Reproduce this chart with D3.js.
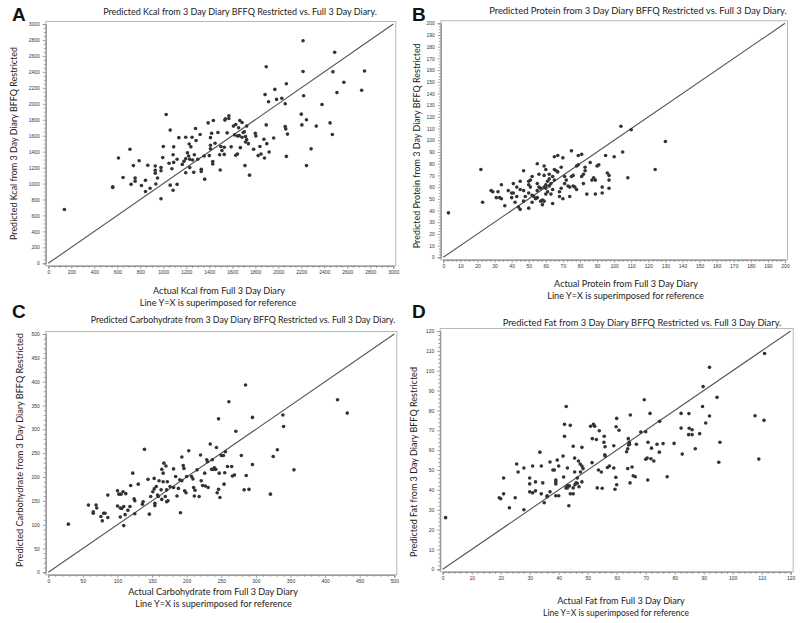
<!DOCTYPE html>
<html><head><meta charset="utf-8">
<script src="https://cdn.jsdelivr.net/npm/d3@7"></script>
<style>body{margin:0;background:#fff}svg{display:block}</style>
</head><body>
<script>
// ---------- DATA ----------
const kcalActual=[140,560,560,610,650,710,720,740,755,755,790,810,845,845,865,885,930,930,930,935,950,980,980,980,995,1000,1025,1060,1050,1060,1075,1085,1085,1090,1090,1120,1120,1135,1165,1180,1195,1195,1195,1210,1220,1225,1230,1230,1240,1250,1255,1265,1270,1280,1285,1300,1320,1330,1330,1355,1360,1390,1400,1410,1410,1410,1420,1430,1430,1435,1450,1475,1490,1495,1500,1510,1530,1530,1535,1540,1555,1570,1570,1590,1610,1620,1630,1630,1645,1645,1655,1660,1665,1670,1685,1685,1695,1705,1710,1715,1715,1725,1725,1740,1750,1785,1800,1805,1825,1840,1850,1875,1880,1885,1895,1895,1900,1920,1915,1960,1970,1985,2030,2060,2060,2065,2070,2070,2080,2200,2205,2215,2215,2220,2245,2245,2285,2330,2380,2450,2470,2475,2490,2510,2570,2725,2750];
const kcalPred=[675,960,950,1320,1075,1430,990,1225,1030,1070,1285,975,1040,900,1230,940,1220,1165,1130,995,1070,1200,1160,810,1325,1465,1865,980,1255,1670,1185,915,1360,1460,1265,990,1305,1575,1240,1280,1310,1580,1135,1385,1345,1495,1305,1200,1460,1580,1295,1140,1360,1690,1540,1305,1615,1180,1150,1345,1055,1760,1350,1575,1480,1435,1630,1275,1245,1790,1505,1640,1360,1170,1465,1415,1365,1455,1795,1810,1635,1815,1850,1460,1720,1610,1355,1740,1595,1370,1700,1600,1790,1450,1580,1765,1640,1650,1225,1520,1590,1720,1550,1500,1105,1430,1630,1595,1350,1465,1370,1555,1320,2115,2465,1735,1500,1395,2025,1570,2180,2055,2070,2000,1715,1685,2250,1340,1620,1870,1735,2790,2405,2100,1800,1225,1435,1720,1990,1760,1615,2400,2645,2140,2270,2170,2410];

const proteinActual=[3,22,23,28,29,31,32,33,34,34,36,38,40,41,40,41,42,43,43,44,45,45,45,47,47,47,48,50,50,50,50,51,51,52,52,52,53,54,55,55,55,55,56,56,57,57,58,58,59,59,59,59,60,60,60,60,61,61,62,62,62,63,63,64,64,64,65,65,65,66,67,67,68,68,69,69,70,70,71,71,72,73,74,74,75,75,76,76,77,78,78,79,79,81,81,82,82,83,83,84,86,87,88,89,89,90,91,93,93,95,96,97,97,97,100,104,105,108,110,124,130];
const proteinPred=[38,75,47,57,56,51,56,51,62,50,44,57,55,63,51,55,47,52,60,43,41,65,58,74,57,48,52,55,62,42,65,60,66,47,53,69,52,50,57,80,63,51,71,60,48,59,49,45,48,78,70,60,62,54,75,59,56,65,67,61,71,54,63,46,58,69,75,66,86,74,87,73,52,56,59,77,85,50,63,69,66,61,52,60,69,91,61,70,60,58,78,87,79,88,69,71,63,74,77,54,81,66,68,54,66,78,79,55,60,87,72,70,66,59,86,112,90,68,109,75,99];

const carbActual=[29,58,65,65,69,70,76,78,80,82,86,86,100,100,102,104,104,105,106,108,109,109,111,112,115,118,119,122,124,125,125,130,136,137,139,144,146,148,151,153,153,154,154,156,158,159,160,163,164,164,166,166,167,169,170,171,171,172,173,176,181,181,184,186,188,190,191,193,193,195,196,197,199,200,203,207,209,210,211,212,215,218,220,221,223,226,227,229,230,231,234,236,237,239,240,242,243,244,246,246,247,248,250,253,254,255,256,261,259,265,266,269,271,279,283,285,286,290,295,295,321,325,331,339,340,355,418,432];
const carbPred=[101,141,124,127,141,135,117,108,124,124,115,162,171,139,164,135,116,164,134,169,98,138,121,165,130,138,182,208,154,150,123,185,143,148,258,195,122,159,169,197,175,145,140,180,162,159,192,173,153,216,208,190,229,159,223,173,148,190,150,180,178,217,201,160,176,194,125,192,242,224,218,171,167,201,255,201,196,178,160,172,215,159,246,192,182,208,181,236,232,178,269,216,236,216,219,216,262,167,322,174,208,157,245,245,185,209,253,358,222,222,202,204,296,245,173,393,203,174,226,325,164,243,257,330,306,215,362,334];

const fatActual=[1,19.5,20,21,21,23,25,25.5,26,28,28,30,30,30,31,31,32,32,33.5,34,34,34.5,35,36,36,37,37,38,38.5,39,39,39,39,39.5,40,40,41.5,41.7,42,42,42.5,42.6,43,43,43,43.5,43.7,44,44,45,45,45,45.5,45.5,45.6,46,46.4,46.4,46.8,47,47.4,47.5,48,48,48,48.4,51,51.5,51.6,52,52.4,53,53.3,53.7,54,54.7,55,55.6,55.7,55.9,56,56,56.8,57.5,59,59,59.4,59.7,59.8,60,60,60.8,63.4,63.8,63.8,64,64.1,64.3,64.4,64.6,64.7,65.3,65.7,66.4,66.8,68.3,69.5,70,70,70.5,70.7,70.8,71.5,71.8,72,72.8,73.9,74.7,74.8,76,77.4,79.8,82.2,82.2,82.6,84.8,84.9,85,86,86,87.1,88.6,89.6,89.8,90.7,92,92,94.6,95.2,95.6,107.7,109,110.8,111];
const fatPred=[26,36,35.5,46,38,31,36,53,49,30,51,39,46,43,52,38.5,44,39.5,59,38,52,43.5,33.5,37,36.5,39,54,50,50,37,45,44,43,55,52,37,57,46.5,73,67,41,82,42,51,41,32,42,38,72.5,41,38,62,56,49,42.6,43.6,43.3,46,54.5,41.6,53,49,61.4,44,52,50.7,72,53.7,65.8,73,72,65.4,41,50,69.8,49,40.8,64,67,57.7,61.7,57,51.3,52,62.2,51,40.3,46.3,71.8,76,42.6,70,59.2,50.7,60.7,65.8,62.6,64,63,43.5,77.7,51.5,47.1,46.6,63,69.1,85.4,55.4,69.3,56,45,64,78.5,55.7,61,54.5,63,59,74.5,63.3,46.6,63.4,71.1,78.5,58,67.8,78.4,71,67.8,70.3,60.7,68.3,82,92,73.7,101.7,77.2,86.6,53.9,64,77.3,55.5,75,108.7];

const kcalTicks=d3.range(0,3001,200);
const proteinTicks=d3.range(0,201,10);
const carbTicks=d3.range(0,501,50);
const fatTicks=d3.range(0,121,10);

// ---------- LAYOUT ----------
const W=800,H=623;
const svg=d3.select("body").append("svg").attr("width",W).attr("height",H);
svg.append("rect").attr("width",W).attr("height",H).attr("fill","#fff");
const FONT="Lato, 'Open Sans', sans-serif";

const panels=[
 {letter:"A",lx:12,ly:21,xs:[48.3,393.3],ys:[263.3,24],max:3000,ticks:kcalTicks,minor:50,xd:kcalActual,yd:kcalPred,
  title:"Predicted Kcal from 3 Day Diary BFFQ Restricted vs. Full 3 Day Diary.",tx:240,ty:14.5,tw:274,
  xl:"Actual Kcal from Full 3 Day Diary",xlx:219,xly:293.5,xlw:132,x2x:218,x2y:305.5,x2w:157,
  yl:"Predicted Kcal from 3 Day Diary BFFQ Restricted",ylx:17,yly:143.5,ylw:193},
 {letter:"B",lx:412,ly:21,xs:[443.3,785],ys:[257.3,23.3],max:200,ticks:proteinTicks,minor:2.5,xd:proteinActual,yd:proteinPred,
  title:"Predicted Protein from 3 Day Diary BFFQ Restricted vs. Full 3 Day Diary.",tx:638,ty:14,tw:298,
  xl:"Actual Protein from Full 3 Day Diary",xlx:626,xly:286.5,xlw:144,x2x:625.5,x2y:298.5,x2w:157,
  yl:"Predicted Protein from 3 Day Diary BFFQ Restricted",ylx:420.5,yly:145.7,ylw:205},
 {letter:"C",lx:12,ly:318,xs:[48.3,394.3],ys:[572.3,334],max:500,ticks:carbTicks,minor:10,xd:carbActual,yd:carbPred,
  title:"Predicted Carbohydrate from 3 Day Diary BFFQ Restricted vs. Full 3 Day Diary.",tx:243,ty:323,tw:305,
  xl:"Actual Carbohydrate from Full 3 Day Diary",xlx:213,xly:595,xlw:170,x2x:213.5,x2y:606.5,x2w:157,
  yl:"Predicted Carbohydrate from 3 Day Diary BFFQ Restricted",ylx:23,yly:450,ylw:234},
 {letter:"D",lx:412,ly:318,xs:[442.7,790.7],ys:[569.3,331],max:120,ticks:fatTicks,minor:2,xd:fatActual,yd:fatPred,
  title:"Predicted Fat from 3 Day Diary BFFQ Restricted vs. Full 3 Day Diary.",tx:642,ty:326,tw:279,
  xl:"Actual Fat from Full 3 Day Diary",xlx:621,xly:603.5,xlw:128,x2x:616,x2y:615.5,x2w:146,
  yl:"Predicted Fat from 3 Day Diary BFFQ Restricted",ylx:417,yly:462,ylw:190}
];

// place a text, shrinking its font size until its natural width matches the target width
function txt(g,s,x,y,size,w,opts={}){
  const t=g.append("text").attr("x",x).attr("y",y).attr("text-anchor","middle")
   .attr("font-family",FONT).attr("font-size",size).attr("fill",opts.fill||"#222").text(s);
  if(w){
    const nat=t.node().getComputedTextLength();
    if(nat>0) t.attr("font-size",(size*w/nat).toFixed(2));
  }
  if(opts.rot) t.attr("transform",`rotate(-90,${x},${y})`);
  return t;
}

panels.forEach(p=>{
  const g=svg.append("g");
  const x=d3.scaleLinear().domain([0,p.max]).range(p.xs);
  const y=d3.scaleLinear().domain([0,p.max]).range(p.ys);
  const pad=2.5;
  const L=p.xs[0]-pad,R=p.xs[1]+pad,T=p.ys[1]-pad,B=p.ys[0]+pad;
  g.append("rect").attr("x",L).attr("y",T).attr("width",R-L).attr("height",B-T)
   .attr("fill","none").attr("stroke","#b8b8b8").attr("stroke-width",1);
  const minorVals=d3.range(0,p.max+1e-9,p.minor).filter(v=>!p.ticks.some(t=>Math.abs(t-v)<1e-9));
  const xAxis=g.append("g").attr("transform",`translate(0,${B})`)
    .call(d3.axisBottom(x).tickValues(p.ticks).tickSize(3).tickPadding(2).tickFormat(d3.format("d")));
  const xMinor=g.append("g").attr("transform",`translate(0,${B})`)
    .call(d3.axisBottom(x).tickValues(minorVals).tickSize(2).tickFormat(""));
  const yAxis=g.append("g").attr("transform",`translate(${L},0)`)
    .call(d3.axisLeft(y).tickValues(p.ticks).tickSize(3).tickPadding(3).tickFormat(d3.format("d")));
  const yMinor=g.append("g").attr("transform",`translate(${L},0)`)
    .call(d3.axisLeft(y).tickValues(minorVals).tickSize(2).tickFormat(""));
  [xAxis,xMinor,yAxis,yMinor].forEach(a=>{
    a.select(".domain").attr("stroke","#999").attr("stroke-width",1);
    a.selectAll(".tick line").attr("stroke","#888").attr("stroke-width",0.8);
    a.selectAll(".tick text").attr("font-family","'Liberation Sans', Arial, sans-serif").attr("font-size",5).attr("fill","#333");
  });
  g.append("line").attr("x1",x(0)).attr("y1",y(0)).attr("x2",x(p.max)).attr("y2",y(p.max))
   .attr("stroke","#555").attr("stroke-width",1.1);
  g.selectAll("circle.pt").data(p.xd.map((v,i)=>[v,p.yd[i]])).enter().append("circle")
   .attr("class","pt").attr("cx",d=>x(d[0])).attr("cy",d=>y(d[1])).attr("r",1.8).attr("fill","#333");
  g.append("text").attr("x",p.lx).attr("y",p.ly).attr("font-family","'Liberation Sans', Arial, sans-serif")
   .attr("font-weight","bold").attr("font-size",19).attr("fill","#111").text(p.letter);
  txt(g,p.title,p.tx,p.ty,10,p.tw);
  txt(g,p.xl,p.xlx,p.xly,10.5,p.xlw);
  txt(g,"Line Y=X is superimposed for reference",p.x2x,p.x2y,10.5,p.x2w);
  txt(g,p.yl,p.ylx,p.yly,10.5,p.ylw,{rot:true});
});
</script>
</body></html>
